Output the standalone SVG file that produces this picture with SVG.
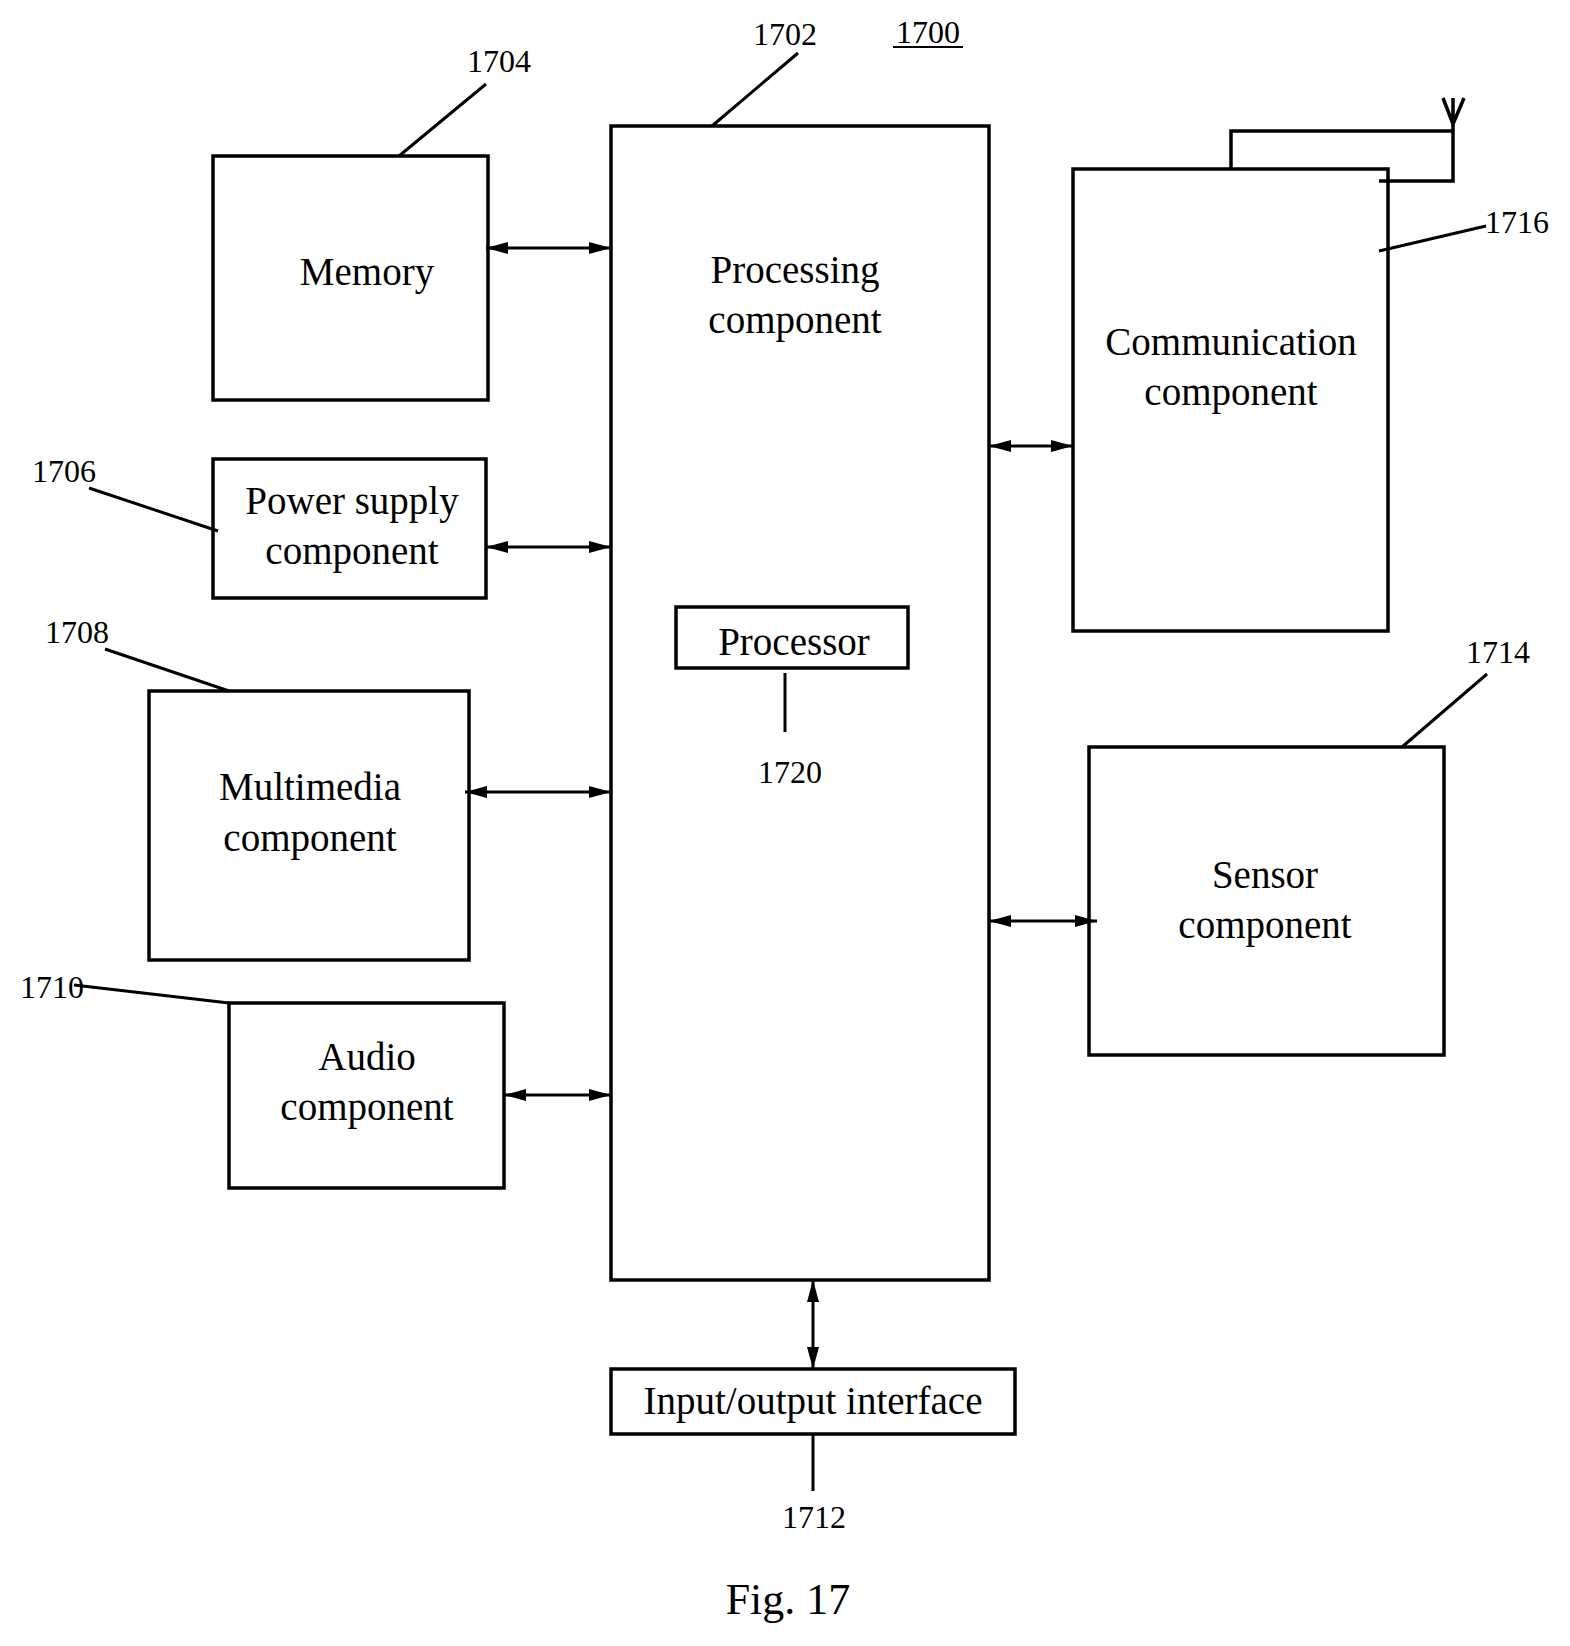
<svg xmlns="http://www.w3.org/2000/svg" width="1570" height="1646" viewBox="0 0 1570 1646">
<style>
.b{fill:none;stroke:#000;stroke-width:3.5}
.l{fill:none;stroke:#000;stroke-width:3}
.c{stroke:#000;stroke-width:3}
.t{font-family:"Liberation Serif","Times New Roman",serif;font-size:39px;text-anchor:middle;fill:#000}
.n{font-family:"Liberation Serif","Times New Roman",serif;font-size:32px;text-anchor:middle;fill:#000}
</style>
<defs>
<marker id="a" viewBox="0 0 22 12" refX="22" refY="6" markerWidth="22" markerHeight="12" markerUnits="userSpaceOnUse" orient="auto-start-reverse">
<path d="M0,0 L22,6 L0,12 z" fill="#000"/>
</marker>
</defs>
<rect width="1570" height="1646" fill="#fff"/>
<g id="processing"><rect class="b" x="611" y="126" width="378" height="1154"/><text class="t" x="795" y="283">Processing</text><text class="t" x="795" y="333">component</text></g>
<g id="processor"><rect class="b" x="676" y="607" width="232" height="61"/><text class="t" x="794" y="655">Processor</text></g>
<g id="memory"><rect class="b" x="213" y="156" width="275" height="244"/><text class="t" x="367" y="285">Memory</text></g>
<g id="power"><rect class="b" x="213" y="459" width="273" height="139"/><text class="t" x="352" y="514">Power supply</text><text class="t" x="352" y="564">component</text></g>
<g id="multimedia"><rect class="b" x="149" y="691" width="320" height="269"/><text class="t" x="310" y="800">Multimedia</text><text class="t" x="310" y="851">component</text></g>
<g id="audio"><rect class="b" x="229" y="1003" width="275" height="185"/><text class="t" x="367" y="1070">Audio</text><text class="t" x="367" y="1120">component</text></g>
<g id="comm"><rect class="b" x="1073" y="169" width="315" height="462"/><text class="t" x="1231" y="355">Communication</text><text class="t" x="1231" y="405">component</text>
<path class="b" d="M1231,169 V131 H1453 V181 H1379 M1453,131 V98 M1443,98 L1453,124 L1464,98"/></g>
<g id="sensor"><rect class="b" x="1089" y="747" width="355" height="308"/><text class="t" x="1265" y="888">Sensor</text><text class="t" x="1265" y="938">component</text></g>
<g id="io"><rect class="b" x="611" y="1369" width="404" height="65"/><text class="t" x="813" y="1414">Input/output interface</text></g>
<g id="connectors">
<line class="c" x1="486" y1="248" x2="611" y2="248" marker-start="url(#a)" marker-end="url(#a)"/>
<line class="c" x1="486" y1="547" x2="611" y2="547" marker-start="url(#a)" marker-end="url(#a)"/>
<line class="c" x1="465" y1="792" x2="611" y2="792" marker-start="url(#a)" marker-end="url(#a)"/>
<line class="c" x1="504" y1="1095" x2="611" y2="1095" marker-start="url(#a)" marker-end="url(#a)"/>
<line class="c" x1="989" y1="446" x2="1073" y2="446" marker-start="url(#a)" marker-end="url(#a)"/>
<line class="c" x1="989" y1="921" x2="1097" y2="921" marker-start="url(#a)" marker-end="url(#a)"/>
<line class="c" x1="813" y1="1280" x2="813" y2="1369" marker-start="url(#a)" marker-end="url(#a)"/>
<path class="l" d="M399,156 L486,84 M712,126 L798,53 M89,488 L218,531 M105,649 L229,691 M74,985 L229,1003 M1487,674 L1402,747 M1379,251 L1486,226 M785,673 V732 M813,1434 V1491"/>
</g>
<g id="labels">
<text class="n" x="499" y="72">1704</text>
<text class="n" x="785" y="45">1702</text>
<text class="n" x="928" y="43">1700</text>
<line x1="893" y1="47" x2="963" y2="47" stroke="#000" stroke-width="2"/>
<text class="n" x="64" y="482">1706</text>
<text class="n" x="77" y="643">1708</text>
<text class="n" x="52" y="998">1710</text>
<text class="n" x="1498" y="663">1714</text>
<text class="n" x="1517" y="233">1716</text>
<text class="n" x="790" y="783">1720</text>
<text class="n" x="814" y="1528">1712</text>
<text class="t" x="788" y="1614" style="font-size:44px">Fig. 17</text>
</g>
</svg>
